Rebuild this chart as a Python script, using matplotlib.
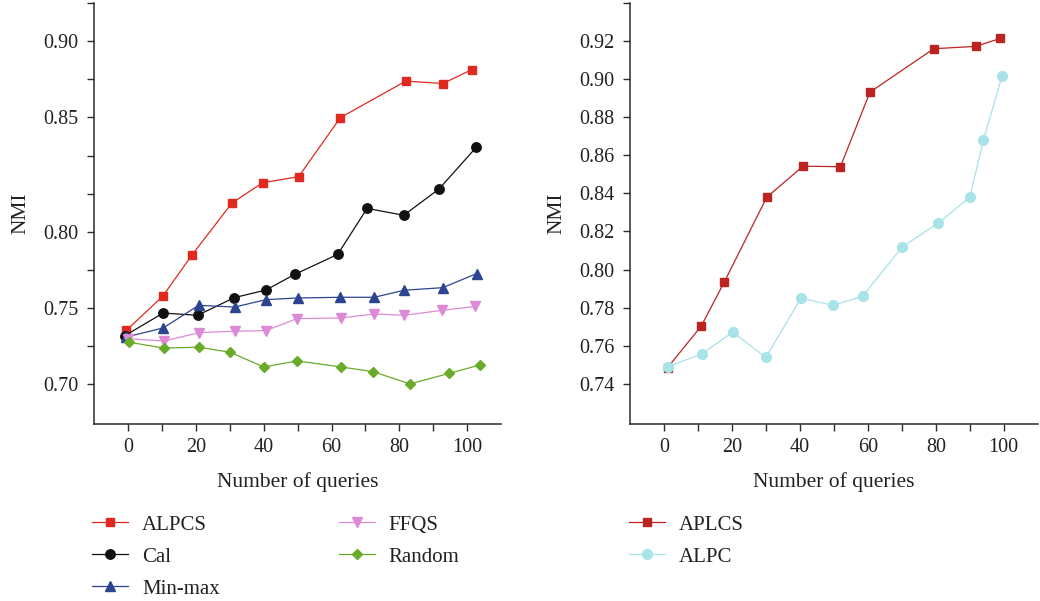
import matplotlib
matplotlib.use("Agg")
import matplotlib.pyplot as plt
import numpy as np

plt.rcParams['font.family'] = ['Liberation Serif', 'DejaVu Serif']
plt.rcParams['font.size'] = 14

# ---------------- Left panel data ----------------
left_series = ["ALPCS", "Cal", "Min-max", "FFQS", "Random"]
alpcs_x = [-0.5, 10.2, 18.8, 30.6, 39.7, 50.3, 62.6, 81.9, 92.9, 101.4]
alpcs_y = [0.7315, 0.7513, 0.7753, 0.8056, 0.8175, 0.8210, 0.8554, 0.8767, 0.8753, 0.8834]
cal_x = [-0.9, 10.3, 20.5, 31.3, 40.6, 49.2, 61.8, 70.5, 81.3, 91.7, 102.7]
cal_y = [0.7284, 0.7415, 0.7402, 0.7505, 0.7549, 0.7641, 0.7757, 0.8025, 0.7985, 0.8138, 0.8381]
minmax_x = [-0.5, 10.3, 20.8, 31.4, 40.6, 50.0, 62.6, 72.6, 81.4, 92.8, 102.8]
minmax_y = [0.7276, 0.7328, 0.7460, 0.7450, 0.7493, 0.7503, 0.7507, 0.7507, 0.7548, 0.7563, 0.7645]
ffqs_x = [-0.2, 10.5, 21.0, 31.4, 40.6, 49.9, 62.8, 72.5, 81.3, 92.7, 102.4]
ffqs_y = [0.7266, 0.7252, 0.7301, 0.7309, 0.7313, 0.7383, 0.7386, 0.7410, 0.7402, 0.7431, 0.7454]
random_x = [0.3, 10.5, 21.0, 30.1, 40.0, 49.8, 62.8, 72.1, 83.2, 94.8, 103.7]
random_y = [0.7245, 0.7211, 0.7216, 0.7186, 0.7101, 0.7136, 0.7101, 0.7074, 0.7002, 0.7064, 0.7112]

left_tick_labels = ["0.70", "", "0.75", "", "0.80", "", "", "0.85", "", "0.90", ""]

# ---------------- Right panel data ----------------
right_series = ["APLCS", "ALPC"]
aplcs_x = [1.0, 10.9, 17.7, 30.2, 40.9, 51.9, 60.6, 79.4, 91.7, 99.0]
aplcs_y = [0.7485, 0.7703, 0.7935, 0.8380, 0.8543, 0.8540, 0.8932, 0.9160, 0.9172, 0.9214]
alpc_x = [1.0, 11.1, 20.2, 29.9, 40.3, 49.6, 58.4, 70.1, 80.7, 90.0, 94.0, 99.5]
alpc_y = [0.7489, 0.7557, 0.7671, 0.7538, 0.7850, 0.7812, 0.7859, 0.8119, 0.8244, 0.8380, 0.8679, 0.9017]

right_tick_labels = ["0.74", "0.76", "0.78", "0.80", "0.82", "0.84", "0.86", "0.88", "0.90", "0.92", ""]

x_tick_labels = ["0", "", "20", "", "40", "", "60", "", "80", "", "100"]

W, H = 1040, 601
fig = plt.figure(figsize=(W / 100, H / 100), dpi=100)

def px_axes(x0, x1, y0, y1):
    return fig.add_axes([x0 / W, 1 - y1 / H, (x1 - x0) / W, (y1 - y0) / H])

axL = px_axes(94.3, 501, 3, 424.3)
axR = px_axes(630.3, 1037.7, 3, 424.3)

spine_col = "#2b2b2b"
for ax in (axL, axR):
    for s in ("top", "right"):
        ax.spines[s].set_visible(False)
    for s in ("left", "bottom"):
        ax.spines[s].set_color(spine_col)
        ax.spines[s].set_linewidth(1.1)
    ax.tick_params(direction="out", length=5, width=1.0, color=spine_col,
                   labelsize=14.5, labelcolor="#222222")
    ax.tick_params(axis="y", pad=6.5)
    ax.tick_params(axis="x", pad=5)
    ax.set_xlim(-10, 110)
    ax.set_xticks(np.arange(0, 101, 10))
    ax.set_xticklabels(x_tick_labels)
    ax.set_xlabel("Number of queries", fontsize=15.5, labelpad=11, color="#222222")
    ax.set_ylabel("NMI", fontsize=15.5, labelpad=9, color="#222222")

# Left panel
u = 0.2 / 9
axL.set_ylim(0.70 - 1.05 * u, 0.70 + 10 * u)
axL.set_yticks([0.70 + i * u for i in range(11)])
axL.set_yticklabels(left_tick_labels)

lw = 0.9
hL = []
hL += axL.plot(alpcs_x, alpcs_y, color="#e02a1f", marker="s", ms=6, lw=lw, label=left_series[0])
hL += axL.plot(cal_x, cal_y, color="#111111", marker="o", ms=6.8, lw=lw, label=left_series[1])
hL += axL.plot(minmax_x, minmax_y, color="#2d4591", marker="^", ms=7, lw=lw, label=left_series[2])
hL += axL.plot(ffqs_x, ffqs_y, color="#dd8ad6", marker="v", ms=7, lw=lw, label=left_series[3])
hL += axL.plot(random_x, random_y, color="#6aab2a", marker="D", ms=5.5, lw=lw, label=left_series[4])

# Right panel
axR.set_ylim(0.74 - 40.7 / 1911, 0.94)
axR.set_yticks(np.round(np.arange(0.74, 0.941, 0.02), 2))
axR.set_yticklabels(right_tick_labels)

hR = []
hR += axR.plot(aplcs_x, aplcs_y, color="#bb2420", marker="s", ms=6.3, lw=lw, label=right_series[0])
hR += axR.plot(alpc_x, alpc_y, color="#a8e3e8", marker="o", ms=7, lw=lw, label=right_series[1])

# Legends
legL = fig.legend(handles=hL, loc="upper left", bbox_to_anchor=(92 / W, 1 - 515 / H),
                  ncol=2, frameon=False, fontsize=15, borderpad=0, borderaxespad=0,
                  handlelength=1.75, handletextpad=0.65, labelspacing=0.6, columnspacing=5.7)
legR = fig.legend(handles=hR, loc="upper left", bbox_to_anchor=(629 / W, 1 - 515 / H),
                  ncol=1, frameon=False, fontsize=15, borderpad=0, borderaxespad=0,
                  handlelength=1.75, handletextpad=0.65, labelspacing=0.6)
for leg in (legL, legR):
    for t in leg.get_texts():
        t.set_color("#222222")

fig.savefig("out.png", dpi=100)
